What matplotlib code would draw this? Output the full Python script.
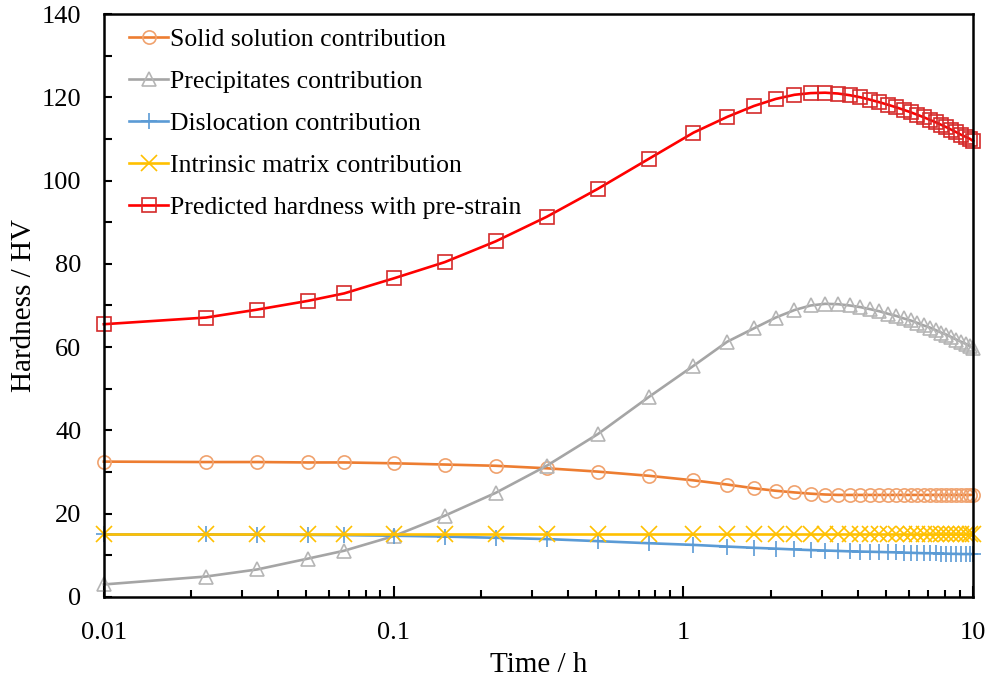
import matplotlib
matplotlib.use("Agg")
import matplotlib.pyplot as plt
from matplotlib.ticker import FixedLocator, NullFormatter, LogLocator

plt.rcParams["font.family"] = ["Liberation Serif", "DejaVu Serif"]

# ageing time (h)
time_h = [0.01, 0.0225, 0.0338, 0.0506, 0.0675, 0.1, 0.15, 0.225, 0.3375, 0.5063, 0.759,
          1.083, 1.417, 1.75, 2.083, 2.417, 2.75, 3.083, 3.417, 3.75, 4.083, 4.417, 4.75,
          5.083, 5.417, 5.75, 6.083, 6.417, 6.75, 7.083, 7.417, 7.75, 8.083, 8.417, 8.75,
          9.083, 9.417, 9.75, 10.0]

solid_solution = [32.5, 32.4, 32.4, 32.3, 32.3, 32.1, 31.8, 31.5, 30.9, 30.1, 29.1,
                  28.0, 27.0, 26.1, 25.5, 25.1, 24.8, 24.6, 24.5, 24.5, 24.5, 24.5, 24.5,
                  24.5, 24.5, 24.5, 24.5, 24.5, 24.5, 24.5, 24.5, 24.5, 24.5, 24.5, 24.5,
                  24.5, 24.5, 24.5, 24.5]

precipitates = [3.0, 4.9, 6.6, 9.2, 11.1, 14.6, 19.5, 25.0, 31.5, 39.1, 48.0,
                55.5, 61.3, 64.5, 67.1, 68.9, 70.0, 70.4, 70.3, 70.0, 69.6, 69.1, 68.6,
                68.0, 67.5, 66.9, 66.4, 65.8, 65.2, 64.7, 64.1, 63.5, 63.0, 62.4, 61.8,
                61.3, 60.8, 60.2, 59.8]

dislocation = [15.0, 15.0, 14.95, 14.9, 14.85, 14.7, 14.5, 14.2, 13.9, 13.4, 12.9,
               12.5, 12.1, 11.8, 11.6, 11.4, 11.25, 11.15, 11.05, 10.95, 10.9, 10.85, 10.8,
               10.75, 10.7, 10.65, 10.6, 10.55, 10.5, 10.5, 10.45, 10.4, 10.4, 10.35, 10.35,
               10.3, 10.3, 10.3, 10.3]

intrinsic = [15.0, 15.0, 15.0, 15.0, 15.0, 15.0, 15.0, 15.0, 15.0, 15.0, 15.0,
             15.0, 15.0, 15.0, 15.0, 15.0, 15.0, 15.0, 15.0, 15.0, 15.0, 15.0, 15.0,
             15.0, 15.0, 15.0, 15.0, 15.0, 15.0, 15.0, 15.0, 15.0, 15.0, 15.0, 15.0,
             15.0, 15.0, 15.0, 15.0]

predicted = [65.5, 67.1, 69.0, 71.1, 72.9, 76.5, 80.4, 85.4, 91.3, 98.0, 105.2,
             111.5, 115.3, 117.9, 119.6, 120.6, 121.0, 121.1, 120.9, 120.5, 120.0, 119.4, 118.8,
             118.2, 117.6, 117.0, 116.4, 115.8, 115.2, 114.6, 114.0, 113.4, 112.8, 112.2, 111.6,
             111.0, 110.5, 110.0, 109.5]

series = [
    ("Solid solution contribution", solid_solution, "#ED7D31", "#F0A26E", "o", 9.5),
    ("Precipitates contribution", precipitates, "#A5A5A5", "#B5B5B5", "^", 9.5),
    ("Dislocation contribution", dislocation, "#5B9BD5", "#5B9BD5", "+", 12),
    ("Intrinsic matrix contribution", intrinsic, "#FFC000", "#FFC000", "x", 11),
    ("Predicted hardness with pre-strain", predicted, "#FF0000", "#D42A2A", "s", 9.5),
]

fig = plt.figure(figsize=(9.89, 6.83), dpi=100)
ax = fig.add_axes([0.105, 0.126, 0.879, 0.8535])

for label, vals, col, mcol, mk, ms in series:
    ax.plot(time_h, vals, color=col, lw=1.9, marker=mk, markersize=ms,
            markerfacecolor="none", markeredgecolor=mcol, markeredgewidth=1.2,
            label=label, clip_on=False)

ax.set_xscale("log")
ax.set_xlim(0.01, 10)
ax.set_ylim(0, 140)
ax.set_xticks([0.01, 0.1, 1, 10])
ax.set_xticklabels(["0.01", "0.1", "1", "10"])
ax.xaxis.set_minor_locator(LogLocator(base=10, subs=range(2, 10)))
ax.xaxis.set_minor_formatter(NullFormatter())
ax.set_yticks(range(0, 141, 20))
ax.yaxis.set_minor_locator(FixedLocator(range(10, 140, 20)))

ax.tick_params(which="both", direction="in", top=False, right=False, width=1.5,
               labelsize=19, color="black")
ax.tick_params(axis="x", which="major", length=8, pad=18)
ax.tick_params(axis="x", which="minor", length=5)
ax.tick_params(axis="y", which="both", length=6, pad=16)

for sp in ax.spines.values():
    sp.set_linewidth(1.8)
    sp.set_color("black")

ax.set_xlabel("Time / h", fontsize=21, va="center")
ax.set_ylabel("Hardness / HV", fontsize=21, va="center")
ax.xaxis.set_label_coords(0.5, -0.117)
ax.yaxis.set_label_coords(-0.092, 0.5)

ax.legend(loc="upper left", frameon=False, fontsize=18.5, handlelength=1.5,
          handletextpad=0.08, labelspacing=0.74, borderaxespad=0.15,
          bbox_to_anchor=(0.013, 1.0))

fig.savefig("out.png", dpi=100)
